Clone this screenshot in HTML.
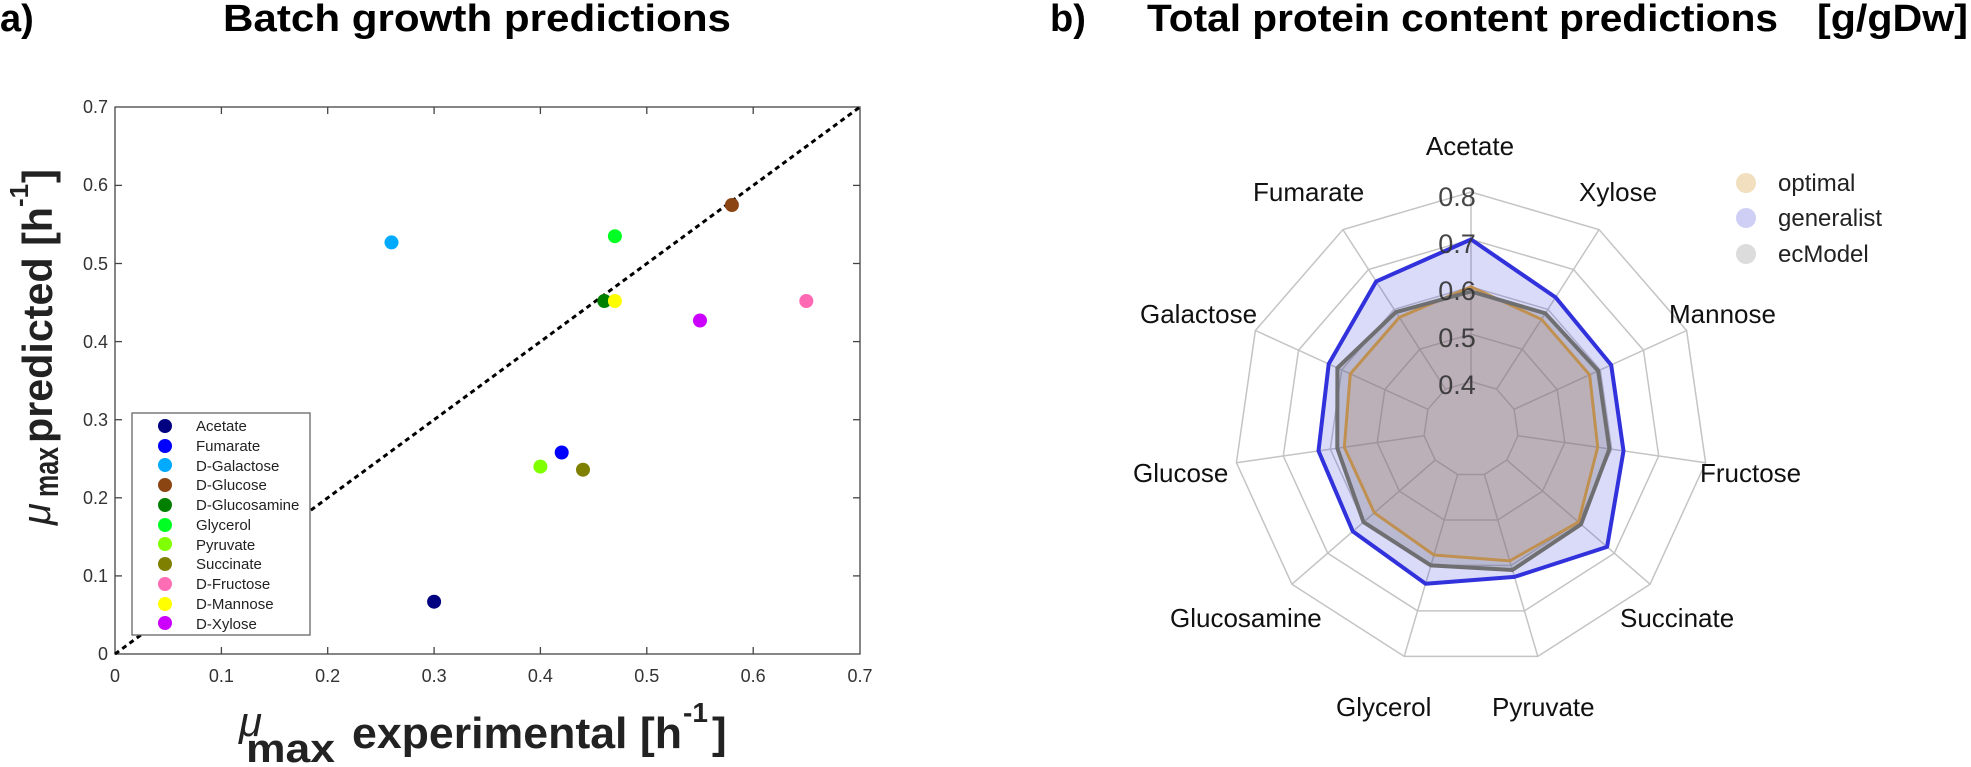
<!DOCTYPE html>
<html><head><meta charset="utf-8"><style>
html,body{margin:0;padding:0;background:#fff;}
svg{display:block;}
text{font-family:"Liberation Sans",Arial,sans-serif;}
</style></head><body>
<svg width="1971" height="767" viewBox="0 0 1971 767" xmlns="http://www.w3.org/2000/svg">
<!-- Titles -->
<text x="0" y="31" font-size="38" font-weight="bold">a)</text>
<text x="223" y="31" font-size="38" font-weight="bold" textLength="508" lengthAdjust="spacingAndGlyphs">Batch growth predictions</text>
<text x="1050" y="31" font-size="38" font-weight="bold">b)</text>
<text x="1147" y="31" font-size="38" font-weight="bold" textLength="631" lengthAdjust="spacingAndGlyphs">Total protein content predictions</text>
<text x="1817" y="31" font-size="38" font-weight="bold" textLength="151" lengthAdjust="spacingAndGlyphs">[g/gDw]</text>

<!-- Left plot axes -->
<rect x="115" y="107" width="745" height="547" fill="none" stroke="#444" stroke-width="1.3"/>
<g stroke="#444" stroke-width="1.3">
<line x1="221.4" y1="654" x2="221.4" y2="647"/><line x1="327.7" y1="654" x2="327.7" y2="647"/><line x1="434.1" y1="654" x2="434.1" y2="647"/><line x1="540.4" y1="654" x2="540.4" y2="647"/><line x1="646.8" y1="654" x2="646.8" y2="647"/><line x1="753.2" y1="654" x2="753.2" y2="647"/>
<line x1="221.4" y1="107" x2="221.4" y2="114"/><line x1="327.7" y1="107" x2="327.7" y2="114"/><line x1="434.1" y1="107" x2="434.1" y2="114"/><line x1="540.4" y1="107" x2="540.4" y2="114"/><line x1="646.8" y1="107" x2="646.8" y2="114"/><line x1="753.2" y1="107" x2="753.2" y2="114"/>
<line x1="115" y1="575.9" x2="122" y2="575.9"/><line x1="115" y1="497.8" x2="122" y2="497.8"/><line x1="115" y1="419.7" x2="122" y2="419.7"/><line x1="115" y1="341.6" x2="122" y2="341.6"/><line x1="115" y1="263.5" x2="122" y2="263.5"/><line x1="115" y1="185.4" x2="122" y2="185.4"/>
<line x1="860" y1="575.9" x2="853" y2="575.9"/><line x1="860" y1="497.8" x2="853" y2="497.8"/><line x1="860" y1="419.7" x2="853" y2="419.7"/><line x1="860" y1="341.6" x2="853" y2="341.6"/><line x1="860" y1="263.5" x2="853" y2="263.5"/><line x1="860" y1="185.4" x2="853" y2="185.4"/>
</g>
<g font-size="18" fill="#333" text-anchor="end">
<text x="108" y="660">0</text><text x="108" y="582">0.1</text><text x="108" y="504">0.2</text><text x="108" y="426">0.3</text><text x="108" y="348">0.4</text><text x="108" y="270">0.5</text><text x="108" y="191">0.6</text><text x="108" y="113">0.7</text>
</g>
<g font-size="18" fill="#333" text-anchor="middle">
<text x="115" y="682">0</text><text x="221.4" y="682">0.1</text><text x="327.7" y="682">0.2</text><text x="434.1" y="682">0.3</text><text x="540.4" y="682">0.4</text><text x="646.8" y="682">0.5</text><text x="753.2" y="682">0.6</text><text x="860" y="682">0.7</text>
</g>
<line x1="115" y1="654" x2="860" y2="107" stroke="#000" stroke-width="3" stroke-dasharray="5,4"/>
<!-- points -->
<circle cx="434.1" cy="601.7" r="7" fill="#000080"/>
<circle cx="561.7" cy="452.5" r="7" fill="#0000ff"/>
<circle cx="391.5" cy="242.4" r="7" fill="#00aaff"/>
<circle cx="731.9" cy="205" r="7" fill="#8b4513"/>
<circle cx="604.3" cy="301" r="7" fill="#007f00"/>
<circle cx="614.9" cy="236.2" r="7" fill="#00ff22"/>
<circle cx="540.4" cy="466.6" r="7" fill="#80ff00"/>
<circle cx="583" cy="469.7" r="7" fill="#808000"/>
<circle cx="806.3" cy="301" r="7" fill="#ff69b4"/>
<circle cx="614.9" cy="301" r="7" fill="#ffff00"/>
<circle cx="700" cy="320.5" r="7" fill="#cc00ff"/>
<!-- legend -->
<rect x="132" y="413" width="178" height="222" fill="#fff" stroke="#666" stroke-width="1.3"/>
<g font-size="15" fill="#222">
<circle cx="165" cy="426" r="7" fill="#000080"/><text x="196" y="431">Acetate</text>
<circle cx="165" cy="446" r="7" fill="#0000ff"/><text x="196" y="451">Fumarate</text>
<circle cx="165" cy="465" r="7" fill="#00aaff"/><text x="196" y="471">D-Galactose</text>
<circle cx="165" cy="485" r="7" fill="#8b4513"/><text x="196" y="490">D-Glucose</text>
<circle cx="165" cy="505" r="7" fill="#007f00"/><text x="196" y="510">D-Glucosamine</text>
<circle cx="165" cy="525" r="7" fill="#00ff22"/><text x="196" y="530">Glycerol</text>
<circle cx="165" cy="544" r="7" fill="#80ff00"/><text x="196" y="550">Pyruvate</text>
<circle cx="165" cy="564" r="7" fill="#808000"/><text x="196" y="569">Succinate</text>
<circle cx="165" cy="584" r="7" fill="#ff6eb4"/><text x="196" y="589">D-Fructose</text>
<circle cx="165" cy="604" r="7" fill="#ffff00"/><text x="196" y="609">D-Mannose</text>
<circle cx="165" cy="623" r="7" fill="#cc00ff"/><text x="196" y="629">D-Xylose</text>
</g>
<!-- X label -->
<text x="239" y="736" font-size="42" font-style="italic" font-family="Liberation Serif,serif" fill="#222">μ</text>
<text x="246" y="762" font-size="40" font-weight="bold" fill="#222" textLength="89" lengthAdjust="spacingAndGlyphs">max</text>
<text x="352" y="748" font-size="44" font-weight="bold" fill="#222" textLength="330" lengthAdjust="spacingAndGlyphs">experimental [h</text>
<text x="683" y="722" font-size="28" font-weight="bold" fill="#222">-1</text>
<text x="712" y="748" font-size="44" font-weight="bold" fill="#222">]</text>
<!-- Y label -->
<g transform="translate(0,525) rotate(-90)">
<text x="0" y="50" font-size="40" font-style="italic" font-family="Liberation Serif,serif" fill="#222">μ</text>
<text x="28" y="58" font-size="34" font-weight="bold" fill="#222" textLength="50" lengthAdjust="spacingAndGlyphs">max</text>
<text x="82" y="52" font-size="42" font-weight="bold" fill="#222" textLength="236" lengthAdjust="spacingAndGlyphs">predicted [h</text>
<text x="318" y="28" font-size="26" font-weight="bold" fill="#222">-1</text>
<text x="342" y="52" font-size="42" font-weight="bold" fill="#222">]</text>
</g>

<!-- Radar grid -->
<g fill="none" stroke="#c4c4c4" stroke-width="1.5">
<polygon points="1471,192 1599.1,229.6 1686.6,330.5 1705.6,462.7 1650.1,584.2 1537.8,656.4 1404.2,656.4 1291.9,584.2 1236.4,462.7 1255.4,330.5 1342.9,229.6"/>
<polygon points="1471,239.4 1573.5,269.5 1643.5,350.2 1658.7,456 1614.3,553.2 1524.4,610.9 1417.6,610.9 1327.7,553.2 1283.3,456 1298.5,350.2 1368.5,269.5"/>
<polygon points="1471,286.8 1547.9,309.4 1600.3,369.9 1611.7,449.2 1578.5,522.1 1511.1,565.4 1430.9,565.4 1363.5,522.1 1330.3,449.2 1341.7,369.9 1394.1,309.4"/>
<polygon points="1471,334.2 1522.2,349.2 1557.2,389.6 1564.8,442.5 1542.6,491.1 1497.7,520 1444.3,520 1399.4,491.1 1377.2,442.5 1384.8,389.6 1419.8,349.2"/>
<polygon points="1471,381.6 1496.6,389.1 1514.1,409.3 1517.9,435.7 1506.8,460 1484.4,474.5 1457.6,474.5 1435.2,460 1424.1,435.7 1427.9,409.3 1445.4,389.1"/>
<line x1="1471" y1="381.6" x2="1471" y2="192"/><line x1="1496.6" y1="389.1" x2="1599.1" y2="229.6"/><line x1="1514.1" y1="409.3" x2="1686.6" y2="330.5"/><line x1="1517.9" y1="435.7" x2="1705.6" y2="462.7"/><line x1="1506.8" y1="460" x2="1650.1" y2="584.2"/><line x1="1484.4" y1="474.5" x2="1537.8" y2="656.4"/><line x1="1457.6" y1="474.5" x2="1404.2" y2="656.4"/><line x1="1435.2" y1="460" x2="1291.9" y2="584.2"/><line x1="1424.1" y1="435.7" x2="1236.4" y2="462.7"/><line x1="1427.9" y1="409.3" x2="1255.4" y2="330.5"/><line x1="1445.4" y1="389.1" x2="1342.9" y2="229.6"/>
</g>
<!-- fills -->
<polygon fill="rgba(70,70,225,0.2)" points="1471,239.4 1555.6,297.4 1611.2,365 1623.5,450.9 1607.1,546.9 1514.4,576.9 1425.6,583.7 1352.8,531.4 1318.5,450.9 1328.7,364 1376.2,281.4"/>
<polygon fill="rgba(110,110,115,0.3)" points="1471,291.5 1545.3,313.3 1598.2,370.9 1609.4,448.9 1581,524.3 1512.4,570 1430.9,565.4 1363.5,522.1 1337.3,448.2 1337.4,368 1395.9,312.1"/>
<polygon fill="rgba(200,140,70,0.18)" points="1471,286.8 1541.5,319.3 1589.6,374.8 1597.7,447.2 1578.5,522.1 1509.7,560.9 1434,555 1374.3,512.8 1344.3,447.2 1350.3,373.9 1399.3,317.4"/>
<!-- lines -->
<polygon fill="none" stroke="#c09050" stroke-width="3" stroke-linejoin="round" points="1471,286.8 1541.5,319.3 1589.6,374.8 1597.7,447.2 1578.5,522.1 1509.7,560.9 1434,555 1374.3,512.8 1344.3,447.2 1350.3,373.9 1399.3,317.4"/>
<polygon fill="none" stroke="#6f6f72" stroke-width="4" stroke-linejoin="round" points="1471,291.5 1545.3,313.3 1598.2,370.9 1609.4,448.9 1581,524.3 1512.4,570 1430.9,565.4 1363.5,522.1 1337.3,448.2 1337.4,368 1395.9,312.1"/>
<polygon fill="none" stroke="#3232dc" stroke-width="4" stroke-linejoin="round" points="1471,239.4 1555.6,297.4 1611.2,365 1623.5,450.9 1607.1,546.9 1514.4,576.9 1425.6,583.7 1352.8,531.4 1318.5,450.9 1328.7,364 1376.2,281.4"/>
<!-- ring labels -->
<g font-size="27" fill="#333" text-anchor="middle" opacity="0.9">
<text x="1457" y="206">0.8</text><text x="1457" y="253">0.7</text><text x="1457" y="300">0.6</text><text x="1457" y="347">0.5</text><text x="1457" y="394">0.4</text>
</g>
<!-- axis labels -->
<g font-size="26" fill="#111">
<text x="1470" y="155" text-anchor="middle">Acetate</text>
<text x="1253" y="201">Fumarate</text>
<text x="1579" y="201">Xylose</text>
<text x="1669" y="323">Mannose</text>
<text x="1140" y="323">Galactose</text>
<text x="1133" y="482">Glucose</text>
<text x="1700" y="482">Fructose</text>
<text x="1170" y="627">Glucosamine</text>
<text x="1620" y="627">Succinate</text>
<text x="1336" y="716">Glycerol</text>
<text x="1492" y="716">Pyruvate</text>
</g>
<!-- radar legend -->
<circle cx="1746" cy="183" r="10" fill="#f1dfbf"/>
<circle cx="1746" cy="218" r="10" fill="#cfcff5"/>
<circle cx="1746" cy="254" r="10" fill="#dcdcdc"/>
<g font-size="24" fill="#222">
<text x="1778" y="191">optimal</text>
<text x="1778" y="226">generalist</text>
<text x="1778" y="262">ecModel</text>
</g>
</svg>
</body></html>
